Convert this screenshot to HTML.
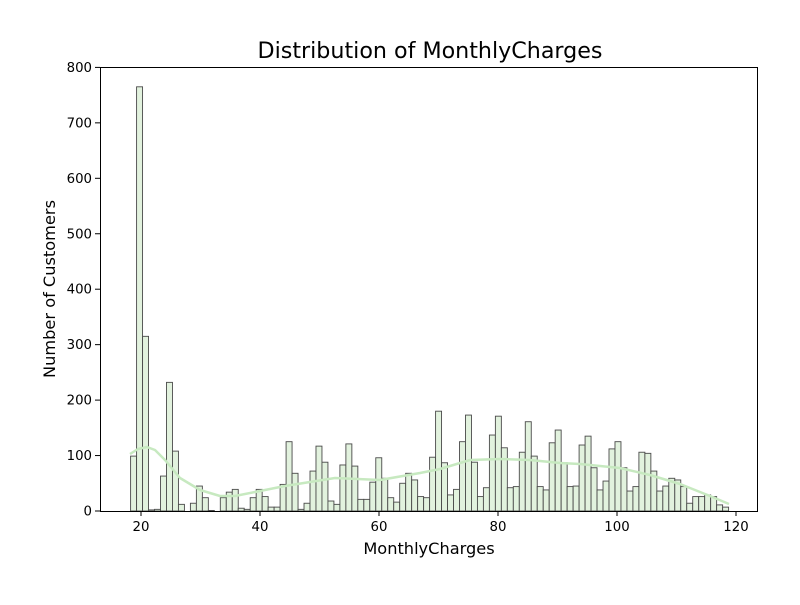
<!DOCTYPE html>
<html><head><meta charset="utf-8"><style>
body{margin:0;background:#fff;}
svg text{font-family:"DejaVu Sans","Liberation Sans",sans-serif;fill:#000;}
</style></head><body>
<svg id="s" width="800" height="600" xmlns="http://www.w3.org/2000/svg">
<rect width="800" height="600" fill="#fff"/>
<g id="bars"></g>
<polyline fill="none" stroke="#c7e9c0" stroke-width="2.5" stroke-linejoin="round" points="130,454 138,449 147,447 155,450 165,460 180,478 200,490 220,496 235,496 260,491 285,486 310,482 335,478 380,480 420,473 440,469 470,460 500,459 530,460 560,463 580,464 620,468 650,475 680,484 710,496 729,504"/>
<rect x="100.5" y="67.5" width="657" height="444" fill="none" stroke="#000" stroke-width="1"/>
<g id="ticks" font-size="13.3"></g>
<text x="430" y="58" font-size="22.2" text-anchor="middle">Distribution of MonthlyCharges</text>
<text x="429" y="554" font-size="16.2" text-anchor="middle">MonthlyCharges</text>
<text transform="translate(55,289) rotate(-90)" font-size="16.2" text-anchor="middle">Number of Customers</text>
</svg>
<script>
var v=[99,765,315,2,3,63,232,108,12,0,14,45,24,1,0,24,34,39,5,3,24,39,26,7,7,48,125,68,3,14,72,117,88,18,12,83,121,81,21,21,52,96,59,24,16,50,68,56,26,24,97,180,87,29,39,125,173,88,26,42,137,171,114,42,44,106,161,99,44,38,123,146,87,44,45,119,135,78,38,54,112,125,78,36,44,106,104,72,36,45,59,56,44,14,26,26,29,26,11,7];
var ns="http://www.w3.org/2000/svg",b=document.getElementById('bars'),t=document.getElementById('ticks');
function el(n,a,p,tx){var e=document.createElementNS(ns,n);for(var k in a)e.setAttribute(k,a[k]);if(tx!=null)e.textContent=tx;p.appendChild(e);return e;}
var k=0.5545;
v.forEach(function(h,i){var x=130.6+i*5.98;var hh=h*k;el('rect',{x:x,y:511-hh,width:5.98,height:hh,fill:'#e2f2de',stroke:'#4a4a4a','stroke-width':0.9},b);});
for(var xv=20;xv<=120;xv+=20){var x=141+(xv-20)*5.95;el('line',{x1:x,y1:511,x2:x,y2:516,stroke:'#000'},t);el('text',{x:x,y:531,'text-anchor':'middle'},t,xv);}
for(var yv=0;yv<=800;yv+=100){var y=511-yv*k;el('line',{x1:95,y1:y,x2:100,y2:y,stroke:'#000'},t);el('text',{x:92,y:y+4.5,'text-anchor':'end'},t,yv);}
</script>
</body></html>
